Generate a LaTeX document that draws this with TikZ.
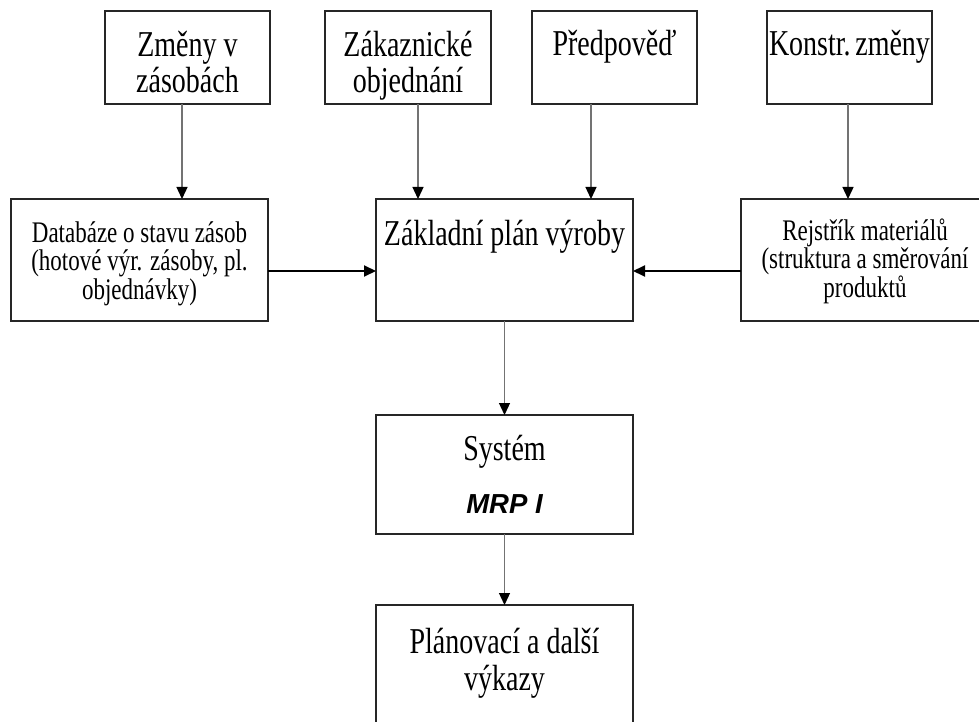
\documentclass[tikz,border=0pt]{standalone}
\usepackage{fontspec}
\usepackage{graphicx}
\setmainfont{Liberation Serif}
\newfontfamily\arialfont{Liberation Sans}
\usetikzlibrary{arrows.meta}
\newcommand\mybox[4]{\parbox[c][#2pt][t]{#1pt}{\centering\rule{0pt}{#3pt}#4}}
\newcommand\vstretch[1]{\scalebox{1}[1.3]{#1}}
\newcommand\bigtxt{\fontsize{28}{36}\selectfont}
\newcommand\smalltxt{\fontsize{23}{28.5}\selectfont}
\begin{document}
\begin{tikzpicture}[x=1pt,y=-1pt,
  box/.style={draw=black!85, line width=1.5pt, inner sep=0pt, outer sep=0pt, anchor=north west},
  arr/.style={draw=black!55, line width=1.3pt, -{Triangle[length=12pt,width=11pt,color=black]}},
  harr/.style={draw=black, line width=2pt, -{Triangle[length=12pt,width=11pt,color=black]}}]
\useasboundingbox (0,0) rectangle (979,722);
\node[box] (zmeny)  at (105,11) {\mybox{165}{93}{46}{\bigtxt\vstretch{Změny v}\\\vstretch{zásobách}}};
\node[box] (zak)    at (325,11) {\mybox{166}{93}{46}{\bigtxt\vstretch{Zákaznické}\\\vstretch{objednání}}};
\node[box] (pred)   at (532,11) {\mybox{165}{93}{45}{\bigtxt\vstretch{Předpověď}}};
\node[box] (konstr) at (767,11) {\mybox{165}{93}{45}{\bigtxt\vstretch{Konstr.\,změny}}};
\node[box] (db)     at (11,199) {\mybox{257}{122}{43}{\smalltxt\vstretch{Databáze o stavu zásob}\\\vstretch{(hotové výr. zásoby, pl.}\\\vstretch{objednávky)}}};
\node[box] (zpv)    at (376,199) {\mybox{257}{122}{46}{\bigtxt\vstretch{Základní plán výroby}}};
\node[box] (rej)    at (741,199) {\mybox{248}{122}{41}{\smalltxt\vstretch{Rejstřík materiálů}\\\vstretch{(struktura a směrování}\\\vstretch{produktů}}};
\node[box] (mrp)    at (376,415) {\mybox{257}{119}{45}{\bigtxt\vstretch{Systém}\\[17pt]{\arialfont\fontsize{27.5}{30}\selectfont\bfseries\itshape MRP I}}};
\node[box] (plan)   at (376,605) {\mybox{257}{120}{48}{\fontsize{28}{37}\selectfont\vstretch{Plánovací a další}\\\vstretch{výkazy}}};
\coordinate (a1) at ([xshift=-5.5pt]zmeny.south);
\coordinate (a2) at ([xshift=10pt]zak.south);
\coordinate (a3) at ([xshift=-23.5pt]pred.south);
\coordinate (a4) at ([xshift=-1.5pt]konstr.south);
\draw[arr] (a1) -- (a1 |- db.north);
\draw[arr] (a2) -- (a2 |- zpv.north);
\draw[arr] (a3) -- (a3 |- zpv.north);
\draw[arr] (a4) -- (a4 |- rej.north);
\coordinate (h1) at ([yshift=-11pt]db.east);
\coordinate (h2) at ([yshift=-11pt]rej.west);
\draw[harr] (h1) -- (h1 -| zpv.west);
\draw[harr] (h2) -- (h2 -| zpv.east);
\draw[arr] (zpv.south) -- (mrp.north);
\draw[arr] (mrp.south) -- (plan.north);
\end{tikzpicture}
\end{document}
